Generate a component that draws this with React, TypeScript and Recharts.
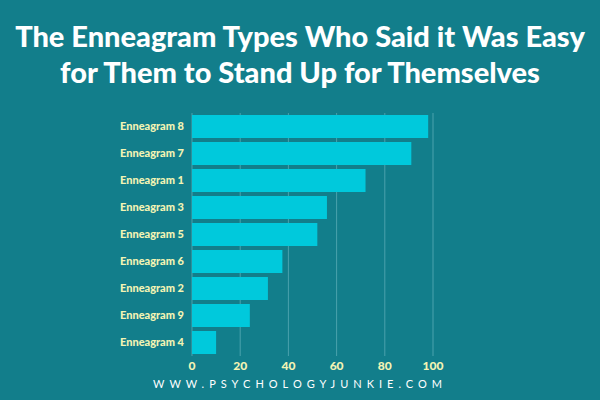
import { BarChart, Bar, XAxis, YAxis, CartesianGrid } from 'recharts';

// Share of each type who said standing up for themselves was easy (%)
const types = [
  'Enneagram 8',
  'Enneagram 7',
  'Enneagram 1',
  'Enneagram 3',
  'Enneagram 5',
  'Enneagram 6',
  'Enneagram 2',
  'Enneagram 9',
  'Enneagram 4',
];
const easyPct = [98, 91, 72, 56, 52, 37.5, 31.5, 24, 10];
const xTicks = [0, 20, 40, 60, 80, 100];

const titleLines = [
  'The Enneagram Types Who Said it Was Easy',
  'for Them to Stand Up for Themselves',
];
const footer = 'WWW.PSYCHOLOGYJUNKIE.COM';

const BG = '#127e8b';
const BAR = '#00c9dc';
const LABEL = '#f3f4b4';

export default function App() {
  const chartData = types.map((name, i) => ({ name, value: easyPct[i] }));

  return (
    <div
      style={{
        position: 'fixed',
        top: 0,
        left: 0,
        width: 600,
        height: 400,
        background: BG,
        fontFamily: 'Lato, sans-serif',
        overflow: 'hidden',
      }}
    >
      <div
        style={{
          position: 'absolute',
          top: 18,
          left: 0,
          width: 600,
          textAlign: 'center',
          color: '#ffffff',
          fontWeight: 900,
          fontSize: 29,
          lineHeight: '36px',
          whiteSpace: 'nowrap',
        }}
      >
        {titleLines.map((t) => (
          <div key={t}>{t}</div>
        ))}
      </div>

      <div style={{ position: 'absolute', top: 0, left: 0 }}>
        <BarChart
          width={600}
          height={400}
          data={chartData}
          layout="vertical"
          margin={{ top: 113, right: 167, bottom: 14, left: 0 }}
          barCategoryGap={2}
        >
          <CartesianGrid
            horizontal={false}
            vertical={true}
            stroke="#4aa2ad"
            strokeWidth={1}
          />
          <XAxis
            type="number"
            domain={[0, 100]}
            ticks={xTicks}
            height={30}
            axisLine={false}
            tickLine={false}
            tickSize={0}
            tickMargin={5}
            tick={{ fill: LABEL, fontSize: 12, fontWeight: 900, fontFamily: 'Lato, sans-serif' }}
          />
          <YAxis
            type="category"
            dataKey="name"
            width={192}
            axisLine={false}
            tickLine={false}
            tickSize={0}
            tickMargin={8}
            tick={{ fill: LABEL, fontSize: 11, fontWeight: 900, fontFamily: 'Lato, sans-serif' }}
          />
          <Bar dataKey="value" fill={BAR} isAnimationActive={false} />
        </BarChart>
      </div>

      <div
        style={{
          position: 'absolute',
          top: 376,
          left: 0,
          width: 600,
          textAlign: 'center',
          color: '#ffffff',
          fontSize: 11,
          letterSpacing: 5,
          lineHeight: '16px',
        }}
      >
        {footer}
      </div>
    </div>
  );
}
